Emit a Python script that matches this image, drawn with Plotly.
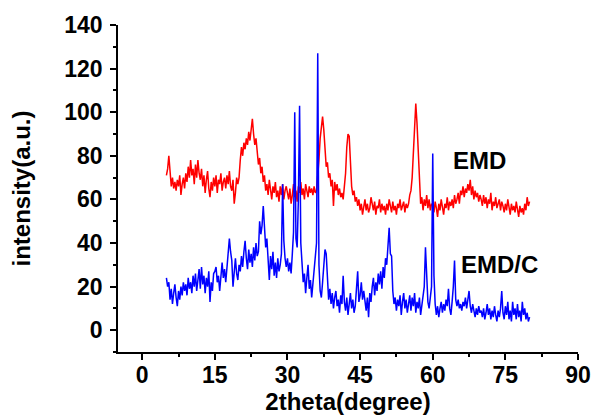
import plotly.graph_objects as go

# 2theta grid (degrees), step 0.25 from 5 to 80
two_theta = [5 + 0.25 * i for i in range(301)]

# EMD intensity (a.u.)
emd = [
    71, 74, 80, 72, 66, 70, 65, 68, 64, 69, 66, 71, 62, 67, 70, 65, 72, 68, 75, 70,
    78, 71, 74, 67, 76, 70, 78, 72, 69, 74, 66, 71, 63, 69, 73, 65, 61, 68, 64, 70,
    66, 71, 63, 69, 67, 72, 64, 68, 70, 65, 71, 67, 73, 66, 64, 69, 58, 63, 70, 67,
    70, 78, 84, 80, 86, 83, 88, 85, 91, 87, 94, 97, 90, 85, 88, 80, 76, 79, 72, 75,
    68, 71, 64, 67, 62, 69, 65, 60, 66, 63, 68, 61, 64, 59, 66, 62, 67, 60, 64, 66,
    63, 60, 65, 58, 62, 67, 61, 64, 59, 66, 63, 68, 62, 65, 60, 67, 64, 61, 66, 63,
    65, 62, 66, 63, 64, 70, 78, 88, 95, 98, 92, 82, 75, 77, 70, 72, 66, 69, 57, 68,
    64, 67, 62, 65, 61, 63, 60, 66, 72, 84, 90, 89, 78, 66, 62, 64, 59, 61, 57, 60,
    55, 58, 53, 57, 60, 55, 58, 54, 56, 61, 57, 55, 59, 53, 57, 56, 60, 54, 58, 55,
    57, 53, 58, 55, 60, 56, 54, 59, 55, 57, 53, 58, 56, 60, 55, 57, 59, 54, 58, 56,
    58, 62, 64, 70, 83, 98, 104, 95, 80, 64, 58, 61, 55, 60, 57, 62, 56, 60, 55, 58,
    57, 54, 59, 56, 52, 58, 55, 60, 57, 53, 58, 56, 61, 55, 59, 57, 60, 56, 62, 58,
    60, 63, 58, 64, 62, 66, 61, 65, 63, 67, 64, 69, 62, 66, 60, 64, 61, 63, 59, 62,
    60, 57, 62, 58, 61, 56, 60, 58, 63, 55, 59, 57, 61, 56, 58, 60, 55, 59, 57, 54,
    58, 55, 60, 56, 53, 58, 55, 57, 54, 59, 56, 52, 57, 54, 56, 53, 58, 55, 61, 57,
    59,
]

# EMD/C intensity (a.u.)
emd_c = [
    24, 20, 22, 14, 19, 12, 17, 21, 15, 11, 18, 14, 20, 16, 22, 18, 21, 16, 24, 19,
    22, 17, 25, 20, 26, 18, 23, 28, 19, 29, 21, 25, 17, 24, 20, 27, 13, 22, 18, 26,
    27, 29, 22, 25, 18, 27, 31, 24, 28, 22, 30, 35, 42, 36, 32, 20, 28, 33, 26, 23,
    30, 27, 34, 29, 36, 41, 33, 28, 37, 31, 35, 29, 38, 32, 40, 34, 36, 50, 44, 48,
    57, 45, 38, 42, 30, 23, 34, 28, 36, 25, 31, 24, 33, 27, 30, 35, 67, 41, 33, 29,
    33, 27, 31, 26, 35, 45, 100, 42, 38, 60, 103, 40, 31, 22, 26, 17, 24, 30, 19, 23,
    15, 21, 26, 35, 40, 127, 30, 18, 15, 22, 30, 37, 35, 24, 14, 19, 12, 17, 10, 15,
    18, 11, 14, 8, 16, 12, 25, 13, 9, 15, 7, 12, 17, 10, 14, 8, 11, 19, 27, 13,
    16, 22, 14, 18, 12, 9, 15, 6, 17, 13, 20, 24, 16, 22, 18, 26, 21, 27, 19, 29,
    24, 33, 30, 40, 47, 35, 34, 18, 12, 15, 9, 14, 11, 16, 7, 13, 17, 10, 14, 8,
    12, 16, 9, 15, 11, 17, 8, 13, 10, 15, 7, 12, 14, 20, 38, 25, 13, 10, 14, 20,
    81, 25, 12, 7, 11, 6, 10, 13, 8, 12, 9, 14, 11, 19, 10, 7, 13, 20, 32, 14,
    11, 14, 10, 12, 9, 13, 11, 15, 10, 14, 18, 11, 8, 12, 9, 6, 10, 7, 11, 8,
    9, 6, 10, 5, 8, 12, 7, 10, 5, 9, 6, 11, 7, 4, 9, 6, 10, 18, 8, 5,
    11, 7, 13, 5, 9, 4, 13, 7, 10, 5, 12, 6, 9, 4, 13, 7, 10, 5, 8, 4,
    6,
]

series_labels = ["EMD", "EMD/C"]
x_ticks = [0, 15, 30, 45, 60, 75, 90]
y_ticks = [0, 20, 40, 60, 80, 100, 120, 140]

FONT = "Arial, 'Liberation Sans', sans-serif"

fig = go.Figure()
fig.add_trace(go.Scatter(x=two_theta, y=emd, mode="lines", name=series_labels[0],
                         line=dict(color="#FF0000", width=1.5), showlegend=False))
fig.add_trace(go.Scatter(x=two_theta, y=emd_c, mode="lines", name=series_labels[1],
                         line=dict(color="#0000FF", width=1.5), showlegend=False))

axis_common = dict(showgrid=False, zeroline=False, showline=True, linecolor="black",
                   linewidth=1.5, tickcolor="black", tickwidth=1.5, automargin=False)

fig.update_layout(
    template="none",
    width=593, height=418,
    margin=dict(l=118, r=15, t=25, b=66),
    paper_bgcolor="white", plot_bgcolor="white",
    font=dict(family=FONT, size=23, color="black", weight="bold"),
    xaxis=dict(range=[-5, 90], tickvals=x_ticks, ticks="outside", ticklen=6,
               ticklabelstandoff=-4,
               minor=dict(dtick=7.5, tick0=0, ticks="outside", ticklen=3.5,
                          tickwidth=1.5, tickcolor="black"),
               title=dict(text="2theta(degree)", standoff=0,
                          font=dict(size=24, family=FONT, weight="bold")),
               tickfont=dict(size=23, family=FONT, weight="bold"),
               **axis_common),
    xaxis2=dict(range=[-5, 90], overlaying="x", side="top", anchor="y",
                tick0=0, dtick=7.5, ticks="inside", ticklen=3.5,
                showticklabels=False, **axis_common),
    yaxis=dict(range=[-10, 140], tickvals=y_ticks, ticks="outside", ticklen=6,
               ticklabelstandoff=3,
               minor=dict(dtick=10, tick0=0, ticks="outside", ticklen=3.5,
                          tickwidth=1.5, tickcolor="black"),
               title=dict(text="intensity(a.u.)", standoff=27,
                          font=dict(size=24, family=FONT, weight="bold")),
               tickfont=dict(size=23, family=FONT, weight="bold"),
               **axis_common),
    yaxis2=dict(range=[-10, 140], overlaying="y", side="right", anchor="x",
                tick0=0, dtick=10, ticks="inside", ticklen=3.5,
                showticklabels=False, **axis_common),
    annotations=[
        dict(x=63.7, y=78, xref="x", yref="y", text=series_labels[0],
             showarrow=False, xanchor="left", yanchor="middle",
             font=dict(size=24, family=FONT, weight="bold", color="black")),
        dict(x=65.4, y=30.2, xref="x", yref="y", text=series_labels[1],
             showarrow=False, xanchor="left", yanchor="middle",
             font=dict(size=24, family=FONT, weight="bold", color="black")),
    ],
)

fig.write_html(
    "out.html",
    config={"displayModeBar": False},
    post_script="document.body.style.margin='0';document.body.style.overflow='hidden';",
)
